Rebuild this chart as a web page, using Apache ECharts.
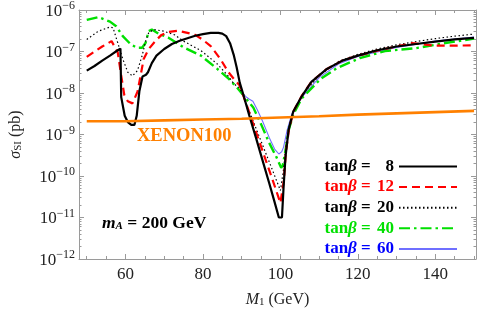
<!DOCTYPE html>
<html><head><meta charset="utf-8">
<script src="https://cdn.jsdelivr.net/npm/echarts@6/dist/echarts.min.js"></script>
<style>html,body{margin:0;padding:0;background:#fff}#c{width:485px;height:313px}</style>
</head><body><div id="c"></div>
<script>
// ---- axis ticks ----
const xMajorTicks = [60, 80, 100, 120, 140];
const xMinorTicks = [50, 55, 65, 70, 75, 85, 90, 95, 105, 110, 115, 125, 130, 135, 145, 150];
const yTickExponents = [-12, -11, -10, -9, -8, -7, -6];
const yMinorMultipliers = [2, 3, 4, 5, 6, 7, 8, 9];

// ---- series: M1 (GeV) and log10(sigma_SI / pb) ----
const tanBetaValues = [8, 12, 20, 40, 60];

const m1_tb8 = [50,52,54,56,58,58.7,58.9,59.3,59.8,60.6,61.5,62.3,62.9,63.6,64.4,65.3,65.8,66.8,68,70,72,74,76,78,80,82,84,85,86,87,88,88.7,89.5,90.4,92,93.7,95.5,97.1,98.5,99.6,100.4,100.8,101.3,102.1,103.3,105.5,108,112,116,120,125,130,135,140,145,150];
const log_tb8 = [-7.46,-7.35,-7.22,-7.10,-6.97,-6.93,-8.1,-8.12,-8.55,-8.7,-8.77,-8.77,-8.55,-7.95,-7.6,-7.56,-7.5,-7.28,-7.1,-6.94,-6.82,-6.74,-6.68,-6.62,-6.58,-6.55,-6.55,-6.57,-6.63,-6.8,-7.1,-7.38,-7.75,-8.03,-8.55,-9.08,-9.66,-10.17,-10.63,-11.0,-11.0,-10.3,-9.55,-8.9,-8.45,-8.08,-7.73,-7.42,-7.22,-7.1,-6.97,-6.88,-6.82,-6.76,-6.71,-6.67];

const m1_tb12 = [50,52,54,56.4,58,58.9,59.7,60.6,61.8,63.1,63.9,64.7,66,67.7,69.3,71,73.6,76,78,80,82,84.5,86.6,88.3,89.5,92,95,98,100,100.5,100.9,101.4,102.2,103.4,105.5,108,112,116,120,125,130,134,137,140,145,150];
const log_tb12 = [-7.13,-7.0,-6.88,-6.75,-7.02,-7.58,-8.05,-8.2,-8.25,-7.97,-7.58,-7.18,-6.94,-6.75,-6.6,-6.53,-6.5,-6.55,-6.6,-6.72,-6.87,-7.18,-7.5,-7.7,-7.82,-8.48,-9.29,-10.1,-10.65,-10.65,-10.1,-9.45,-8.88,-8.44,-8.07,-7.73,-7.42,-7.22,-7.1,-6.98,-6.88,-6.8,-6.83,-6.86,-6.86,-6.85];

const m1_tb20 = [50,53,56,56.8,58,59.3,60.6,61.8,63.1,64.3,65.2,66,67.3,69.8,72.7,75,79.5,83.7,86.6,88,89.5,92,95,98,100,100.3,100.8,101.5,102.4,103.8,106,110,115,120,125,130,135,140,145,150];
const log_tb20 = [-6.71,-6.51,-6.41,-6.43,-6.79,-7.18,-7.5,-7.59,-7.46,-7.1,-6.75,-6.55,-6.47,-6.51,-6.6,-6.75,-6.98,-7.3,-7.6,-7.78,-7.88,-8.45,-9.16,-9.87,-10.35,-10.35,-9.85,-9.2,-8.75,-8.35,-8.0,-7.58,-7.24,-7.07,-6.94,-6.84,-6.76,-6.69,-6.63,-6.58];

const m1_tb40 = [50,53,56,57.6,59.3,61.4,63,64.3,65.2,66,66.8,68.5,71,75,79.5,83.7,86.6,89,91,93,95,97.1,99,100.2,100.6,101.3,102.1,103.3,105.5,110.5,114.6,120.5,127,135,143,150];
const log_tb40 = [-6.24,-6.17,-6.28,-6.39,-6.63,-6.83,-6.91,-6.91,-6.79,-6.51,-6.47,-6.57,-6.66,-6.9,-7.1,-7.42,-7.65,-7.89,-8.12,-8.35,-8.75,-9.2,-9.55,-9.8,-9.75,-9.39,-8.91,-8.52,-8.13,-7.65,-7.4,-7.16,-6.99,-6.92,-6.79,-6.69];

const m1_tb60 = [90,91,92,92.9,94,95.4,97.1,98.5,99.6,100.3,100.8,101.7,102.9,104.2,106,110,115,120,130,140,150];
const log_tb60 = [-7.98,-8.08,-8.15,-8.2,-8.4,-8.68,-9.07,-9.35,-9.47,-9.42,-9.31,-8.91,-8.52,-8.28,-8.05,-7.63,-7.3,-7.12,-6.9,-6.75,-6.65];

const m1_xenon = [50,60,70,80,90,100,110,120,130,140,150];
const log_xenon = [-8.68,-8.68,-8.66,-8.64,-8.62,-8.59,-8.56,-8.52,-8.49,-8.46,-8.43];

// ---- build ----
const SERIF = "'Liberation Serif','DejaVu Serif',serif";
const GRAY = '#9a9a9a';
const toData = (xs, ls) => xs.map((x, i) => [x, Math.pow(10, ls[i])]);
const yMajor = yTickExponents.map(e => Math.pow(10, e));
const yMinor = [];
yTickExponents.slice(0, -1).forEach(e => yMinorMultipliers.forEach(m => yMinor.push(m * Math.pow(10, e))));

const names = tanBetaValues.map(v => 'tanβ = ' + v);
const colorKeys = ['k', 'r', 'k', 'g', 'b'];
const textColors = { k: '#000', r: '#ff0000', g: '#00e000', b: '#0000ff' };
const LFS = 17;
const rich = {};
Object.keys(textColors).forEach(k => {
  rich[k] = { fontFamily: SERIF, fontWeight: 'bold', fontSize: LFS, lineHeight: 14, color: textColors[k] };
  rich[k + 'i'] = { fontFamily: SERIF, fontWeight: 'bold', fontStyle: 'italic', fontSize: LFS, lineHeight: 14, color: textColors[k] };
  rich[k + 'n'] = { fontFamily: SERIF, fontWeight: 'bold', fontSize: LFS, lineHeight: 14, color: textColors[k], width: 19, align: 'right' };
});

const styles = [
  { color: '#000000', width: 2.2, type: 'solid' },
  { color: '#ff0000', width: 2.2, type: [8, 5] },
  { color: '#000000', width: 1.2, type: [1.5, 2.5] },
  { color: '#00e000', width: 2.4, type: [11, 4, 2.5, 4] },
  { color: '#6f6fff', width: 1.1, type: 'solid' }
];
const seriesData = [
  toData(m1_tb8, log_tb8), toData(m1_tb12, log_tb12), toData(m1_tb20, log_tb20),
  toData(m1_tb40, log_tb40), toData(m1_tb60, log_tb60)
];
const drawOrder = [4, 3, 2, 1, 0];
const series = drawOrder.map(i => ({
  name: names[i], type: 'line', data: seriesData[i], showSymbol: false, symbol: 'none',
  xAxisIndex: 0, yAxisIndex: 0, animation: false,
  lineStyle: { color: styles[i].color, width: styles[i].width, type: styles[i].type },
  itemStyle: { color: styles[i].color }, z: 3 + (4 - i)
}));
series.push({
  name: 'XENON100', type: 'line', data: toData(m1_xenon, log_xenon), showSymbol: false, symbol: 'none',
  xAxisIndex: 0, yAxisIndex: 0, animation: false,
  lineStyle: { color: '#ff8000', width: 2.6 }, itemStyle: { color: '#ff8000' }, z: 10
});

const xBase = { type: 'value', min: 48, max: 150.5, splitLine: { show: false }, axisLine: { onZero: false, lineStyle: { color: GRAY, width: 1 } } };
const yBase = { type: 'log', logBase: 10, min: 1e-12, max: 1e-6, splitLine: { show: false }, axisLine: { onZero: false, lineStyle: { color: GRAY, width: 1 } } };
const tick = (vals, len) => ({ show: true, inside: true, length: len, customValues: vals, lineStyle: { color: GRAY } });

const option = {
  animation: false,
  backgroundColor: '#fff',
  grid: { left: 68, right: 9, top: 10, bottom: 49, containLabel: false },
  xAxis: [
    Object.assign({}, xBase, {
      position: 'bottom', axisTick: tick(xMajorTicks, 5),
      axisLabel: { customValues: xMajorTicks, fontFamily: SERIF, fontSize: 17, color: '#222', margin: 7 },
      name: '{i|M}{s|1} (GeV)', nameLocation: 'middle', nameGap: 33,
      nameTextStyle: { fontFamily: SERIF, fontSize: 16, color: '#222',
        rich: { i: { fontFamily: SERIF, fontStyle: 'italic', fontSize: 16, color: '#222' },
                s: { fontFamily: SERIF, fontSize: 11, color: '#222', verticalAlign: 'bottom', lineHeight: 10 } } }
    }),
    Object.assign({}, xBase, { position: 'bottom', axisLine: { show: false }, axisTick: tick(xMinorTicks, 3), axisLabel: { show: false } }),
    Object.assign({}, xBase, { position: 'top', axisTick: tick(xMajorTicks, 5), axisLabel: { show: false } }),
    Object.assign({}, xBase, { position: 'top', axisLine: { show: false }, axisTick: tick(xMinorTicks, 3), axisLabel: { show: false } })
  ],
  yAxis: [
    Object.assign({}, yBase, {
      position: 'left', axisTick: tick(yMajor, 5),
      axisLabel: { customValues: yMajor, margin: 4,
        formatter: v => '{b|10}{s|−' + Math.abs(Math.round(Math.log10(v))) + '}',
        rich: { b: { fontFamily: SERIF, fontSize: 17, color: '#222', lineHeight: 20, verticalAlign: 'bottom' },
                s: { fontFamily: SERIF, fontSize: 12, color: '#222', lineHeight: 12, verticalAlign: 'top' } } },
      name: '{i|σ}{s|SI} (pb)', nameLocation: 'middle', nameGap: 55, nameRotate: 90,
      nameTextStyle: { fontFamily: SERIF, fontSize: 16, color: '#222',
        rich: { i: { fontFamily: SERIF, fontStyle: 'italic', fontSize: 16, color: '#222' },
                s: { fontFamily: SERIF, fontSize: 11, color: '#222', verticalAlign: 'bottom', lineHeight: 10 } } }
    }),
    Object.assign({}, yBase, { position: 'left', axisLine: { show: false }, axisTick: tick(yMinor, 2.5), axisLabel: { show: false } }),
    Object.assign({}, yBase, { position: 'right', axisTick: tick(yMajor, 5), axisLabel: { show: false } }),
    Object.assign({}, yBase, { position: 'right', axisLine: { show: false }, axisTick: tick(yMinor, 2.5), axisLabel: { show: false } })
  ],
  legend: {
    orient: 'vertical', align: 'right', right: 27, top: 158, padding: 0,
    itemWidth: 58, itemHeight: 14, itemGap: 3.6,
    itemStyle: { opacity: 0 },
    data: names.map(n => ({ name: n })),
    formatter: name => {
      const i = names.indexOf(name);
      const c = colorKeys[i];
      return '{' + c + '|tan}{' + c + 'i|β}{' + c + '| = }{' + c + 'n|' + tanBetaValues[i] + '}';
    },
    textStyle: { rich: rich }
  },
  graphic: [
    { type: 'text', left: 137, top: 127, style: { text: 'XENON100', fill: '#ff8000', font: "bold 18.5px 'Liberation Serif', serif" } },
    { type: 'text', left: 102, top: 214, style: {
        text: '{i|m}{s|A}{t| = 200 GeV}',
        rich: { i: { fontFamily: SERIF, fontWeight: 'bold', fontStyle: 'italic', fontSize: 17.5, fill: '#000' },
                s: { fontFamily: SERIF, fontWeight: 'bold', fontStyle: 'italic', fontSize: 11, fill: '#000', verticalAlign: 'bottom', lineHeight: 10 },
                t: { fontFamily: SERIF, fontWeight: 'bold', fontSize: 17.5, fill: '#000' } } } }
  ],
  series: series
};
const chart = echarts.init(document.getElementById('c'), null, { renderer: 'canvas' });
chart.setOption(option);
</script></body></html>
